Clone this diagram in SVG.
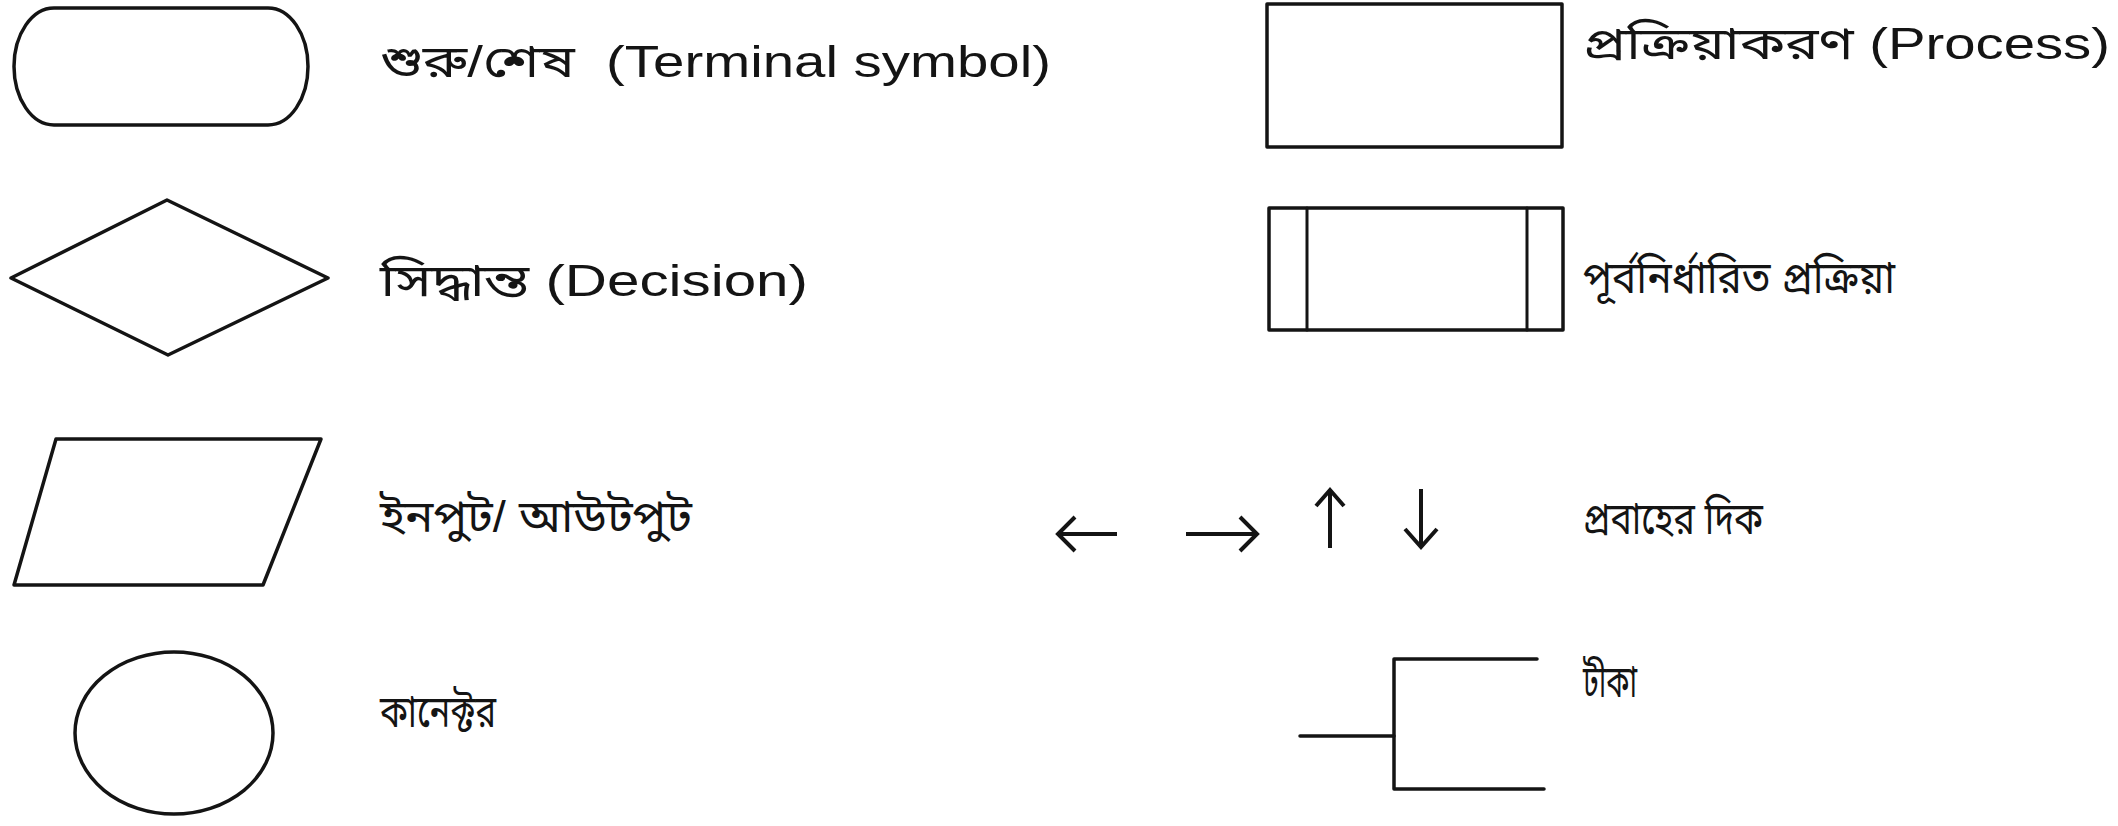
<svg xmlns="http://www.w3.org/2000/svg" width="2118" height="826" viewBox="0 0 2118 826">
  <style>
    .shape { fill: none; stroke: #141414; stroke-width: 3.5; stroke-linejoin: round; stroke-linecap: round; }
    .thin { fill: none; stroke: #141414; stroke-width: 3; stroke-linecap: round; }
    .arrow { fill: none; stroke: #141414; stroke-width: 4; stroke-linejoin: miter; stroke-linecap: butt; }
    .label { font-family: "Liberation Sans", "Noto Sans Bengali", "Noto Sans", sans-serif; font-size: 44px; fill: #141414; white-space: pre; }
  </style>
  <rect x="0" y="0" width="2118" height="826" fill="#ffffff"/>

  <g id="terminal">
    <path class="shape" d="M 54,8 H 268 A 40 58.5 0 0 1 268,125 H 54 A 40 58.5 0 0 1 54,8 Z"/>
    <text class="label" x="380" y="77" textLength="671" lengthAdjust="spacingAndGlyphs" xml:space="preserve">শুরু/শেষ  (Terminal symbol)</text>
  </g>

  <g id="decision">
    <polygon class="shape" points="11,278 167,200 328,278 168,355"/>
    <text class="label" x="380" y="296" textLength="428" lengthAdjust="spacingAndGlyphs">সিদ্ধান্ত (Decision)</text>
  </g>

  <g id="input-output">
    <polygon class="shape" points="56,439 321,439 263,585 14,585"/>
    <text class="label" x="380" y="532" textLength="312" lengthAdjust="spacingAndGlyphs">ইনপুট/ আউটপুট</text>
  </g>

  <g id="connector">
    <ellipse class="shape" cx="174" cy="733" rx="99" ry="81"/>
    <text class="label" x="380" y="727" textLength="116" lengthAdjust="spacingAndGlyphs">কানেক্টর</text>
  </g>

  <g id="process">
    <rect class="shape" x="1267" y="4" width="295" height="143"/>
    <text class="label" x="1583" y="59" textLength="527" lengthAdjust="spacingAndGlyphs">প্রক্রিয়াকরণ (Process)</text>
  </g>

  <g id="predefined-process">
    <rect class="shape" x="1269" y="208" width="294" height="122"/>
    <line class="thin" x1="1307" y1="208" x2="1307" y2="330"/>
    <line class="thin" x1="1527" y1="208" x2="1527" y2="330"/>
    <text class="label" x="1583" y="293" textLength="312" lengthAdjust="spacingAndGlyphs">পূর্বনির্ধারিত প্রক্রিয়া</text>
  </g>

  <g id="flow-direction">
    <line class="arrow" x1="1058" y1="534" x2="1117" y2="534"/>
    <polyline class="arrow" points="1075,517 1058,534 1075,551"/>
    <line class="arrow" x1="1186" y1="534" x2="1257" y2="534"/>
    <polyline class="arrow" points="1240,517 1257,534 1240,551"/>
    <line class="arrow" x1="1330" y1="490" x2="1330" y2="548"/>
    <polyline class="arrow" points="1316,506 1330,490 1344,506"/>
    <line class="arrow" x1="1421" y1="489" x2="1421" y2="547"/>
    <polyline class="arrow" points="1405,529 1421,547 1437,529"/>
    <text class="label" x="1583" y="534" textLength="180" lengthAdjust="spacingAndGlyphs">প্রবাহের দিক</text>
  </g>

  <g id="annotation">
    <polyline class="shape" points="1537,659 1394,659 1394,789 1544,789"/>
    <line class="shape" x1="1300" y1="736" x2="1394" y2="736"/>
    <text class="label" x="1583" y="697" textLength="54" lengthAdjust="spacingAndGlyphs">টীকা</text>
  </g>
</svg>
